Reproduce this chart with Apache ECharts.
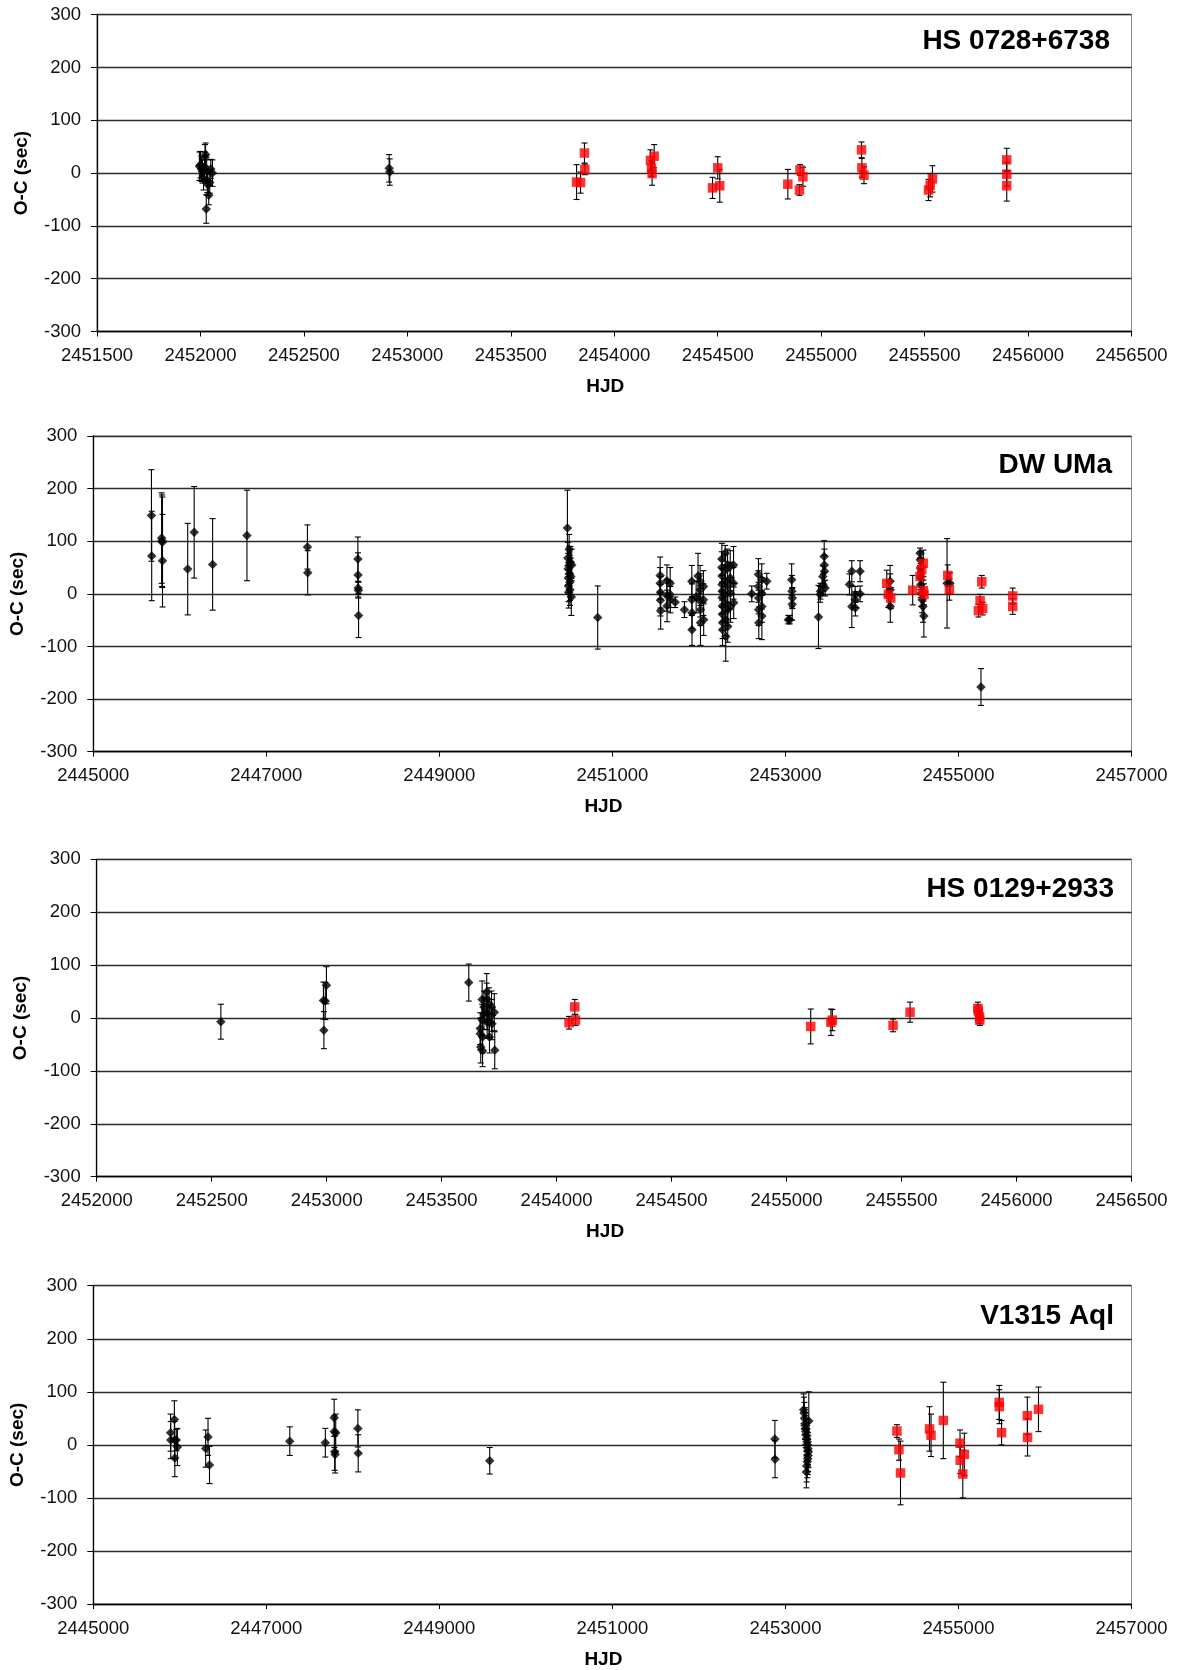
<!DOCTYPE html>
<html>
<head>
<meta charset="utf-8">
<script src="https://cdn.jsdelivr.net/npm/echarts@6/dist/echarts.min.js"></script>
<style>
html,body{margin:0;padding:0;background:#fff;}
#chart{width:1182px;height:1670px;}
</style>
</head>
<body>
<div id="chart"></div>
<script>
// ---------- DATA: [HJD, O-C (sec), error (sec)] ----------
const panelTitles = ['HS 0728+6738', 'DW UMa', 'HS 0129+2933', 'V1315 Aql'];
const xMins = [2451500, 2445000, 2452000, 2445000];
const xMaxs = [2456500, 2457000, 2456500, 2457000];
const xSteps = [500, 2000, 500, 2000];
const yMin = -300, yMax = 300, yStep = 100;

const hs0728Black = [
  [2451995, 13, 27], [2452000, 16, 25], [2452005, 8, 24], [2452010, 3, 22], [2452015, -10, 22],
  [2452020, 12, 28], [2452022, 30, 24], [2452025, 35, 22], [2452028, -68, 27], [2452030, 5, 20],
  [2452033, -15, 22], [2452036, -22, 20], [2452040, -42, 18], [2452045, -18, 20], [2452050, 8, 18],
  [2452058, 0, 25], [2452912, 9, 26], [2452915, 2, 25]
];
const hs0728Red = [
  [2453818, -17, 33], [2453837, -18, 20], [2453856, 38, 19], [2453858, 7, 10],
  [2454175, 24, 20], [2454180, 9, 15], [2454183, -1, 22], [2454193, 32, 22],
  [2454475, -28, 20], [2454500, 10, 21], [2454510, -24, 31],
  [2454839, -21, 28], [2454895, -32, 10], [2454898, 6, 10], [2454912, -7, 18],
  [2455195, 44, 15], [2455197, 10, 18], [2455207, -4, 16],
  [2455519, -32, 20], [2455527, -23, 22], [2455538, -11, 25],
  [2455897, 25, 22], [2455897, -2, 22], [2455897, -24, 29]
];

const dwumaBlack = [
  [2445672, 149, 87], [2445675, 72, 85],
  [2445790, 106, 86], [2445795, 101, 87], [2445798, 98, 86], [2445800, 63, 88],
  [2446091, 47, 87], [2446166, 117, 87], [2446379, 56, 87], [2446776, 111, 86],
  [2447475, 89, 42], [2447478, 40, 42],
  [2448058, 66, 42], [2448060, 36, 42], [2448062, 11, 12], [2448064, 7, 15], [2448066, -41, 42],
  [2450480, 125, 72], [2450485, 68, 30], [2450488, 47, 30], [2450490, 30, 30], [2450492, 15, 30],
  [2450495, 3, 30], [2450500, 85, 28], [2450503, 55, 35], [2450505, 38, 35], [2450508, 22, 35],
  [2450510, 8, 30], [2450515, 60, 30], [2450520, 33, 35], [2450525, -6, 35], [2450530, 55, 30],
  [2450830, -45, 60],
  [2451552, 35, 35], [2451552, 20, 30], [2451555, 3, 30], [2451555, -12, 30], [2451558, -32, 35],
  [2451630, 25, 30], [2451630, -3, 30], [2451632, -23, 30],
  [2451668, 20, 30], [2451668, -1, 25], [2451670, -11, 25],
  [2451726, -16, 10], [2451833, -30, 15],
  [2451918, 24, 30], [2451918, -11, 30], [2451920, -36, 30], [2451920, -68, 30],
  [2451968, -6, 30], [2451990, 34, 43],
  [2452014, 24, 30], [2452016, 8, 30], [2452016, -14, 30], [2452018, -30, 30], [2452018, -55, 43],
  [2452052, 14, 30], [2452052, -11, 30], [2452055, -49, 30],
  [2452265, 66, 30], [2452265, 50, 30], [2452267, 34, 30], [2452267, 18, 30], [2452269, 5, 30],
  [2452269, -7, 30], [2452271, -23, 30], [2452271, -39, 30], [2452273, -55, 30], [2452273, -68, 30],
  [2452304, 77, 15], [2452304, 45, 30], [2452306, 24, 30], [2452306, -1, 30], [2452308, -17, 30],
  [2452308, -49, 30], [2452310, -81, 47],
  [2452331, 55, 30], [2452331, 14, 30], [2452333, -30, 30], [2452333, -62, 30],
  [2452362, 52, 30], [2452362, 30, 30], [2452364, 1, 30], [2452364, -24, 30],
  [2452400, 55, 35], [2452400, 20, 30], [2452402, -17, 30],
  [2452611, 0, 15],
  [2452688, 37, 30], [2452688, 14, 30], [2452690, -8, 30], [2452690, -30, 30], [2452692, -55, 30],
  [2452726, 27, 30], [2452726, 1, 30], [2452728, -24, 30], [2452728, -42, 45],
  [2452784, 24, 15],
  [2453034, -49, 8], [2453050, -49, 8],
  [2453072, 27, 30], [2453075, 5, 30], [2453078, -20, 30], [2453080, -8, 20],
  [2453382, -44, 60], [2453401, -1, 15], [2453405, 5, 15],
  [2453432, 33, 20], [2453435, 18, 20],
  [2453448, 71, 30], [2453450, 55, 30], [2453452, 43, 30], [2453459, 11, 15],
  [2453740, 18, 20], [2453767, 43, 20], [2453767, -24, 40],
  [2453806, -1, 15], [2453806, -11, 15], [2453808, -27, 15],
  [2453863, 43, 20], [2453863, 0, 15],
  [2454210, 24, 30], [2454210, 8, 30], [2454212, -24, 30],
  [2454556, 77, 10], [2454558, 65, 15], [2454560, 49, 20], [2454562, 33, 25], [2454565, 18, 25],
  [2454570, 1, 25], [2454580, -11, 25], [2454590, -24, 30], [2454600, -42, 40],
  [2454868, 20, 85], [2454902, 20, 20],
  [2455260, -177, 35]
];
const dwumaRed = [
  [2454171, 20, 25], [2454190, -1, 25], [2454217, -8, 20],
  [2454471, 7, 28],
  [2454556, 33, 20], [2454575, 46, 20], [2454594, 58, 25], [2454594, 6, 20], [2454602, -1, 20],
  [2454876, 35, 20], [2454895, 8, 20],
  [2455231, -32, 12], [2455250, -13, 12], [2455269, 23, 12], [2455280, -28, 12],
  [2455627, -4, 15], [2455627, -24, 15]
];

const hs0129Black = [
  [2452540, -7, 33],
  [2452986, 33, 35], [2452988, -23, 35], [2452994, 32, 35], [2452999, 62, 35],
  [2453618, 67, 35],
  [2453668, -20, 30], [2453668, -30, 30], [2453670, -55, 30],
  [2453676, 35, 35], [2453676, -4, 30], [2453678, -36, 30], [2453678, -62, 30],
  [2453684, 8, 30], [2453684, 21, 30],
  [2453696, 49, 35], [2453696, 36, 30], [2453698, 8, 30], [2453698, -8, 30],
  [2453706, 27, 30], [2453706, -8, 30], [2453708, -36, 30],
  [2453717, 21, 30], [2453717, 5, 30], [2453719, -11, 30],
  [2453729, 11, 35], [2453731, -61, 35]
];
const hs0129Red = [
  [2454054, -9, 12], [2454079, 21, 14], [2454082, -4, 10],
  [2455105, -16, 33], [2455193, -8, 25], [2455199, -4, 20],
  [2455463, -14, 12], [2455537, 11, 19],
  [2455832, 18, 12], [2455834, 13, 12], [2455839, 2, 12], [2455840, -4, 10]
];

const v1315Black = [
  [2445893, 23, 35], [2445895, 9, 35], [2445937, 48, 35], [2445940, 9, 35], [2445942, -25, 35],
  [2445959, 9, 20], [2445972, -4, 35],
  [2446299, -7, 35], [2446326, 15, 35], [2446343, -38, 35],
  [2447271, 7, 27], [2447682, 4, 27],
  [2447784, 51, 35], [2447786, 25, 30], [2447790, -13, 35], [2447795, -18, 35], [2447802, 23, 35],
  [2448058, 31, 35], [2448062, -16, 35],
  [2449582, -30, 25],
  [2452878, 11, 35], [2452880, -27, 35],
  [2453210, 66, 30], [2453215, 60, 30], [2453220, 50, 30], [2453225, 40, 30], [2453230, 31, 30],
  [2453235, 25, 30], [2453240, 18, 30], [2453245, 12, 30], [2453250, 6, 30], [2453255, 0, 30],
  [2453260, -7, 30], [2453265, -13, 30], [2453262, -20, 30], [2453258, -26, 30], [2453252, -32, 30],
  [2453246, -40, 30], [2453242, -51, 30], [2453270, 45, 55]
];
const v1315Red = [
  [2454289, 26, 12], [2454312, -9, 20], [2454330, -53, 60],
  [2454665, 30, 42], [2454683, 18, 40],
  [2454825, 46, 72],
  [2455018, 3, 25], [2455020, -29, 25], [2455050, -55, 45], [2455068, -18, 40],
  [2455471, 80, 32], [2455473, 72, 32], [2455498, 23, 23],
  [2455796, 55, 35], [2455798, 14, 35],
  [2455925, 67, 42]
];

const blackSets = [hs0728Black, dwumaBlack, hs0129Black, v1315Black];
const redSets = [hs0728Red, dwumaRed, hs0129Red, v1315Red];

// ---------- LAYOUT ----------
const FONT = "'Liberation Sans', Arial, sans-serif";
const grids = [
  {left: 97, right: 50.5, top: 14.7, height: 316.8},
  {left: 93.3, right: 50.5, top: 436, height: 315.7},
  {left: 96.7, right: 50.5, top: 859.3, height: 317.4},
  {left: 93.3, right: 50.5, top: 1285.7, height: 319.3}
];
const titleTops = [27, 451, 875, 1302];
const titleRights = [72, 70, 68, 68];

function errRender(params, api) {
  const x = api.value(0), y = api.value(1), e = api.value(2);
  const lo = api.coord([x, y - e]);
  const hi = api.coord([x, y + e]);
  const c = 3;
  const st = {stroke: '#000', lineWidth: 1.1};
  return {type: 'group', children: [
    {type: 'line', shape: {x1: lo[0], y1: lo[1], x2: hi[0], y2: hi[1]}, style: st},
    {type: 'line', shape: {x1: lo[0] - c, y1: lo[1], x2: lo[0] + c, y2: lo[1]}, style: st},
    {type: 'line', shape: {x1: hi[0] - c, y1: hi[1], x2: hi[0] + c, y2: hi[1]}, style: st}
  ]};
}

const option = {
  animation: false,
  backgroundColor: '#fff',
  textStyle: {fontFamily: FONT},
  title: panelTitles.map((t, i) => ({
    text: t, right: titleRights[i], top: titleTops[i], padding: 0,
    textStyle: {fontSize: 28, fontWeight: 'bold', color: '#000', fontFamily: FONT}
  })),
  grid: grids.map(g => Object.assign({show: true, borderColor: '#8c8c8c', borderWidth: 1, backgroundColor: '#fff'}, g)),
  xAxis: grids.map((g, i) => ({
    gridIndex: i, type: 'value', min: xMins[i], max: xMaxs[i], interval: xSteps[i],
    axisLine: {show: true, onZero: false, lineStyle: {color: '#000', width: 1.3}},
    axisTick: {show: true, length: 5, lineStyle: {color: '#000', width: 1}},
    axisLabel: {formatter: v => String(v), fontSize: 18.5, color: '#111', margin: 15, fontFamily: FONT},
    splitLine: {show: false},
    name: 'HJD', nameLocation: 'middle', nameGap: 46,
    nameTextStyle: {fontWeight: 'bold', fontSize: 19, color: '#000', fontFamily: FONT, padding: [0, 18, 0, 0]}
  })),
  yAxis: grids.map((g, i) => ({
    gridIndex: i, type: 'value', min: yMin, max: yMax, interval: yStep,
    axisLine: {show: true, onZero: false, lineStyle: {color: '#000', width: 1.3}},
    axisTick: {show: true, length: 6, lineStyle: {color: '#000', width: 1}},
    axisLabel: {fontSize: 18.5, color: '#111', margin: 16, fontFamily: FONT},
    splitLine: {show: true, lineStyle: {color: '#2b2b2b', width: 1.3}},
    name: 'O-C (sec)', nameLocation: 'middle', nameGap: 66,
    nameTextStyle: {fontWeight: 'bold', fontSize: 19, color: '#000', fontFamily: FONT}
  })),
  series: []
};

for (let i = 0; i < 4; i++) {
  option.series.push({
    type: 'custom', xAxisIndex: i, yAxisIndex: i, renderItem: errRender,
    dimensions: ['x', 'y', 'e'], encode: {x: 0, y: 1}, data: blackSets[i], z: 3, silent: true
  });
  option.series.push({
    type: 'scatter', xAxisIndex: i, yAxisIndex: i, symbol: 'diamond', symbolSize: 9.5,
    itemStyle: {color: '#000'}, data: blackSets[i].map(d => [d[0], d[1]]), z: 4, silent: true
  });
  option.series.push({
    type: 'custom', xAxisIndex: i, yAxisIndex: i, renderItem: errRender,
    dimensions: ['x', 'y', 'e'], encode: {x: 0, y: 1}, data: redSets[i], z: 5, silent: true
  });
  option.series.push({
    type: 'scatter', xAxisIndex: i, yAxisIndex: i, symbol: 'rect', symbolSize: 9.5,
    itemStyle: {color: '#ff0000'}, data: redSets[i].map(d => [d[0], d[1]]), z: 6, silent: true
  });
}

const chart = echarts.init(document.getElementById('chart'), null, {renderer: 'canvas'});
chart.setOption(option);
</script>
</body>
</html>
